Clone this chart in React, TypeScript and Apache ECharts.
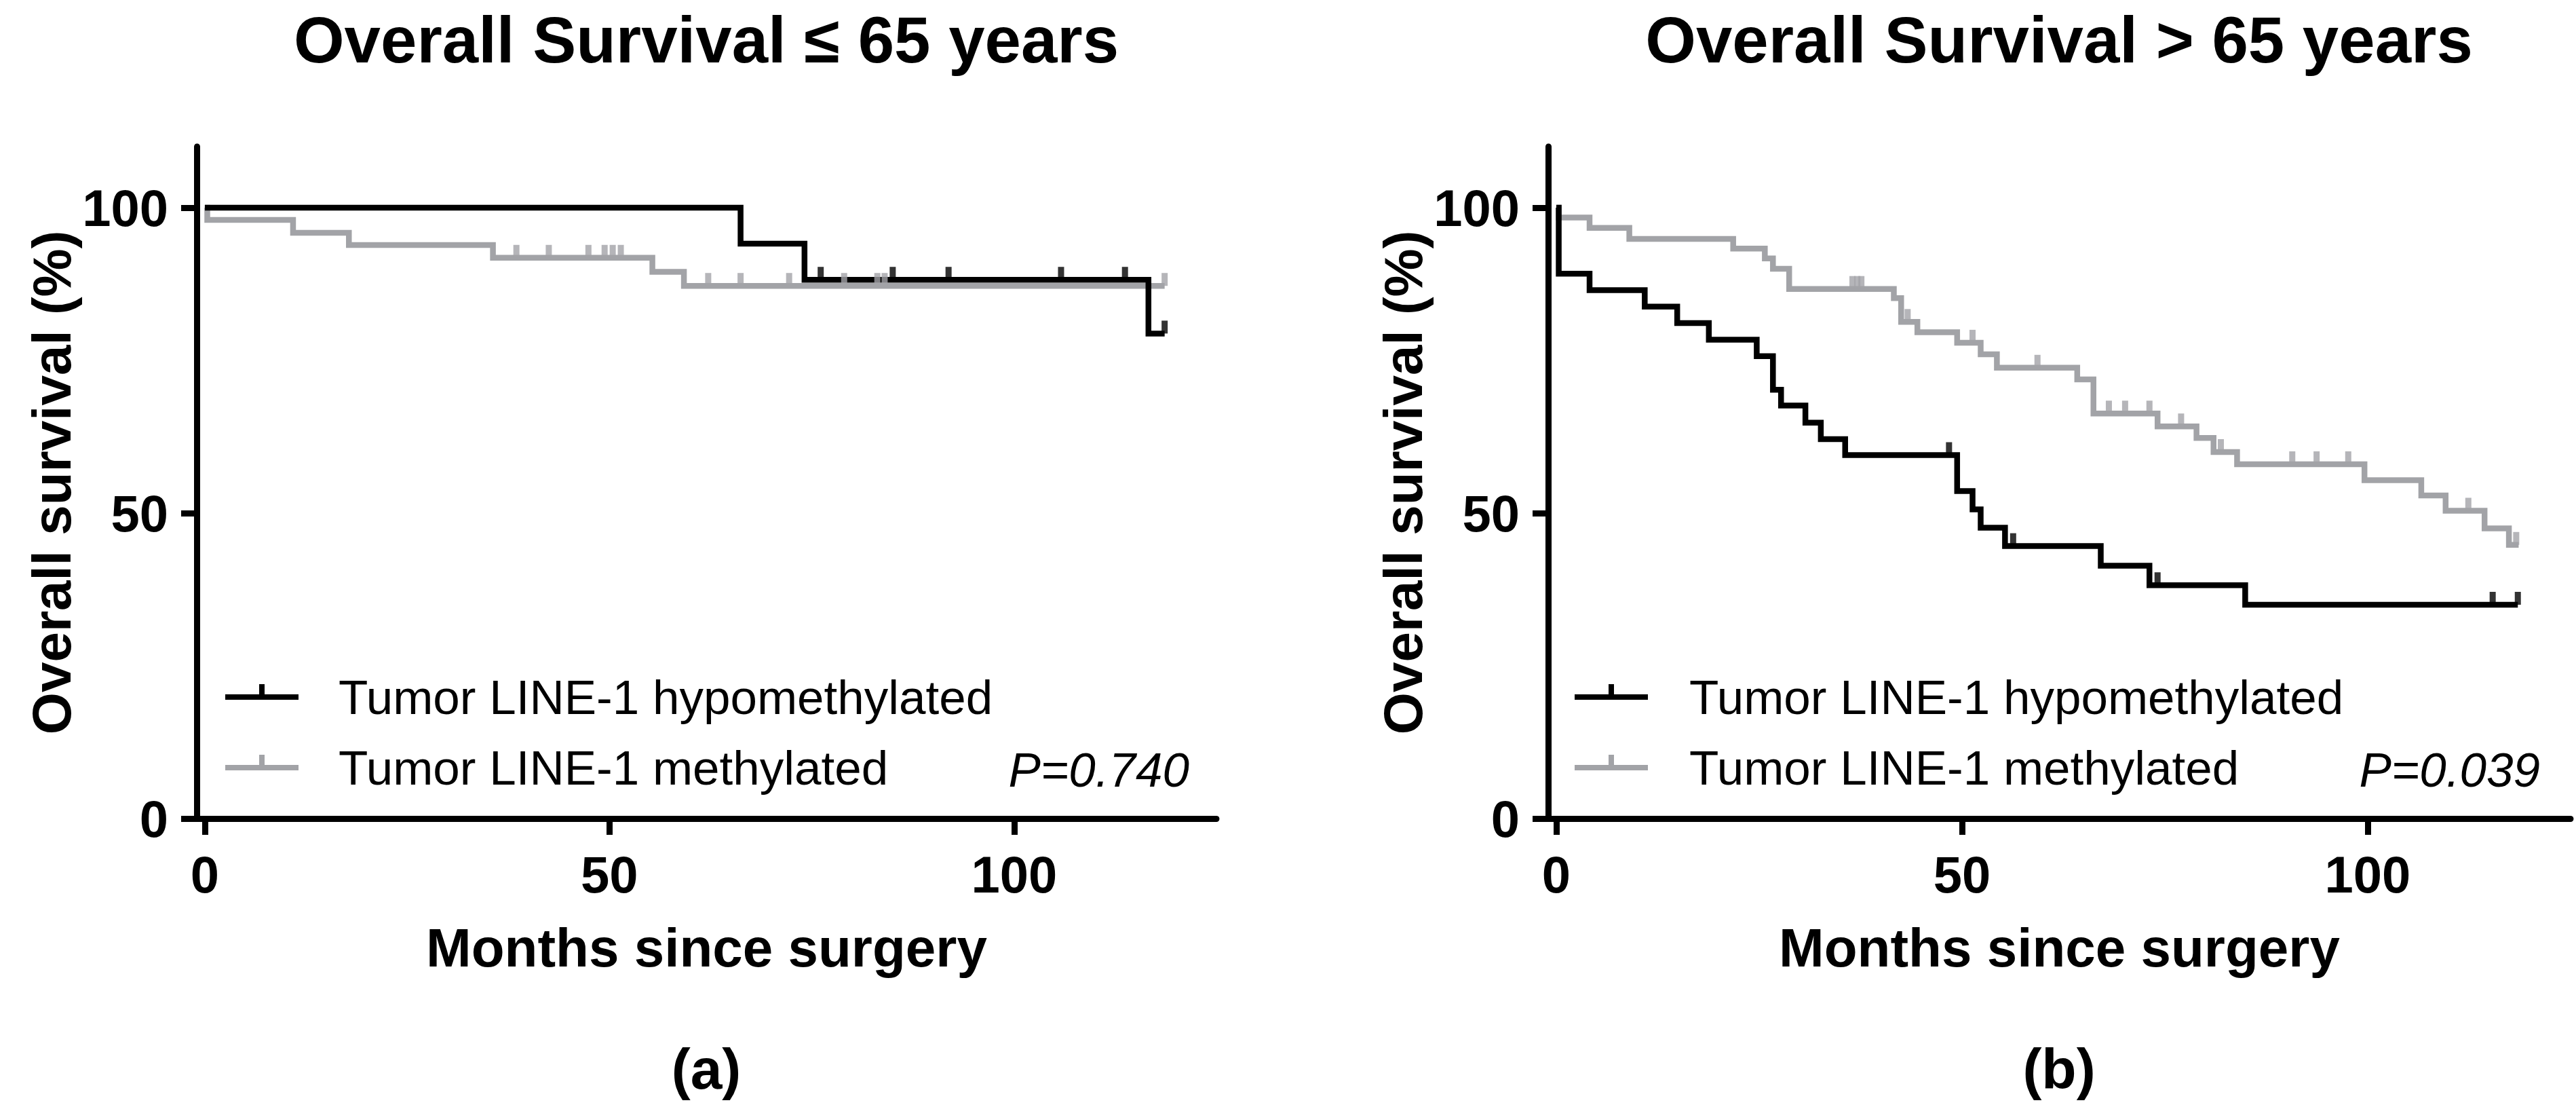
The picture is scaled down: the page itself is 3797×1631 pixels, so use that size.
import React, { useEffect, useRef } from "react";
import * as echarts from "echarts";

// ---------- data ----------
// Kaplan–Meier step points: [month, survival %] (value holds from that month on)
const leftHypoSteps: [number, number][] = [
  [0, 100], [66.2, 94.1], [74.1, 88.2], [116.6, 79.4], [118.6, 79.4],
];
const leftHypoCensor: number[] = [76.1, 85.0, 91.9, 105.8, 113.7, 118.6];

const leftMethSteps: [number, number][] = [
  [0, 100], [0.3, 98.0], [10.9, 95.9], [17.8, 93.9], [35.6, 91.8],
  [55.3, 89.5], [59.2, 87.2], [118.6, 87.2],
];
const leftMethCensor: number[] = [
  38.5, 42.5, 47.4, 49.4, 50.4, 51.4, 62.2, 66.2, 72.2, 79.0, 83.1, 84.0, 118.6,
];

const rightHypoSteps: [number, number][] = [
  [0, 100], [0.3, 89.2], [4.1, 86.5], [10.9, 83.8], [14.9, 81.1], [18.8, 78.4],
  [24.7, 75.7], [26.7, 70.2], [27.7, 67.6], [30.7, 64.8], [32.6, 62.1],
  [35.6, 59.5], [49.4, 53.6], [51.3, 50.6], [52.3, 47.6], [55.3, 44.6],
  [67.1, 41.4], [73.1, 38.2], [84.9, 35.0], [118.5, 35.0],
];
const rightHypoCensor: number[] = [48.4, 56.3, 74.1, 115.4, 118.5];

const rightMethSteps: [number, number][] = [
  [0, 100], [0.3, 98.4], [4.1, 96.7], [9.0, 94.9], [21.8, 93.3], [25.7, 91.7],
  [26.7, 90.0], [28.7, 86.7], [41.6, 85.2], [42.5, 81.3], [44.5, 79.6],
  [49.4, 77.9], [52.3, 76.0], [54.3, 73.8], [64.2, 71.9], [66.2, 66.3],
  [74.1, 64.2], [78.9, 62.3], [81.0, 60.0], [83.9, 58.0], [99.6, 55.4],
  [106.6, 52.9], [109.6, 50.4], [114.4, 47.5], [117.4, 44.8], [118.6, 44.8],
];
const rightMethCensor: number[] = [
  36.5, 37.1, 37.6, 43.3, 51.3, 59.3, 68.1, 70.1, 73.1, 77.0, 81.9, 90.7,
  93.7, 97.6, 112.4, 118.3,
];

const xTicks: number[] = [0, 50, 100];
const yTicks: number[] = [0, 50, 100];

const titles: string[] = ["Overall Survival \u2264 65 years", "Overall Survival > 65 years"];
const panelLabels: string[] = ["(a)", "(b)"];
const legendNames: string[] = ["Tumor LINE-1 hypomethylated", "Tumor LINE-1 methylated"];
const pValues: string[] = ["P=0.740", "P=0.039"];

// ---------- styling ----------
const FONT = "'Liberation Sans', Arial, Helvetica, sans-serif";
const BLACK = "#000000";
const GRAY = "#a2a3a7";
const W = 3797;
const H = 1631;

const grids = [
  { left: 290, top: 216, width: 1503, height: 990 },
  { left: 2282, top: 216, width: 1507, height: 990 },
];

function survivalAt(steps: [number, number][], t: number): number {
  let v = steps[0][1];
  for (const [m, s] of steps) {
    if (m <= t + 1e-9) v = s;
  }
  return v;
}

function lineSeries(name: string, steps: [number, number][], color: string, gi: number) {
  return {
    type: "line",
    name,
    xAxisIndex: gi,
    yAxisIndex: gi,
    data: steps,
    step: "end",
    showSymbol: false,
    symbol: "none",
    silent: true,
    lineStyle: { color, width: 8.5, cap: "butt", join: "miter" },
    emphasis: { disabled: true },
    z: 3,
  };
}

function censorSeries(name: string, steps: [number, number][], times: number[], color: string, gi: number) {
  return {
    type: "scatter",
    name,
    xAxisIndex: gi,
    yAxisIndex: gi,
    data: times.map((t) => [t, survivalAt(steps, t)]),
    symbol: "rect",
    symbolSize: [9, 19],
    symbolOffset: [0, -9.5],
    itemStyle: { color },
    silent: true,
    emphasis: { disabled: true },
    z: 3,
  };
}

function xAxisCfg(gi: number) {
  return {
    type: "value",
    gridIndex: gi,
    min: -1,
    max: 125,
    axisLine: { show: true, onZero: false, lineStyle: { color: BLACK, width: 9 } },
    axisTick: { show: true, length: 24, inside: false, customValues: xTicks, lineStyle: { color: BLACK, width: 9 } },
    axisLabel: {
      show: true,
      customValues: xTicks,
      margin: 44,
      fontSize: 76,
      fontWeight: "bold",
      fontFamily: FONT,
      color: BLACK,
    },
    splitLine: { show: false },
    name: "Months since surgery",
    nameLocation: "middle",
    nameGap: 150,
    nameTextStyle: { fontSize: 80, fontWeight: "bold", fontFamily: FONT, color: BLACK },
  };
}

function yAxisCfg(gi: number) {
  return {
    type: "value",
    gridIndex: gi,
    min: 0,
    max: 110,
    axisLine: { show: true, onZero: false, lineStyle: { color: BLACK, width: 9 } },
    axisTick: { show: true, length: 23, inside: false, customValues: yTicks, lineStyle: { color: BLACK, width: 9 } },
    axisLabel: {
      show: true,
      customValues: yTicks,
      margin: 42,
      fontSize: 76,
      fontWeight: "bold",
      fontFamily: FONT,
      color: BLACK,
    },
    splitLine: { show: false },
    name: "Overall survival (%)",
    nameLocation: "middle",
    nameRotate: 90,
    nameGap: 174,
    nameTextStyle: { fontSize: 80, fontWeight: "bold", fontFamily: FONT, color: BLACK },
  };
}

function textEl(text: string, x: number, y: number, size: number, weight: string, align: string, italic = false) {
  return {
    type: "text",
    x,
    y,
    silent: true,
    style: {
      text,
      fill: BLACK,
      fontSize: size,
      fontWeight: weight,
      fontStyle: italic ? "italic" : "normal",
      fontFamily: FONT,
      textAlign: align,
      align,
      textVerticalAlign: "middle",
      verticalAlign: "middle",
    },
  };
}

function legendEls(symX: number, textX: number, rows: number[]) {
  const els: any[] = [];
  const colors = [BLACK, GRAY];
  rows.forEach((ry, i) => {
    els.push({
      type: "rect",
      silent: true,
      shape: { x: symX, y: ry - 4, width: 108, height: 8 },
      style: { fill: colors[i] },
    });
    els.push({
      type: "rect",
      silent: true,
      shape: { x: symX + 50, y: ry - 19, width: 8, height: 15 },
      style: { fill: colors[i] },
    });
    els.push(textEl(legendNames[i], textX, ry, 71, "normal", "left"));
  });
  return els;
}

function App() {
  const ref = useRef<HTMLDivElement>(null);

  useEffect(() => {
    if (!ref.current) return;
    const chart = echarts.init(ref.current, null, { renderer: "svg", width: W, height: H });

    const legendRows = [1027, 1131];
    const graphic: any[] = [
      textEl(titles[0], 1041, 58, 96, "bold", "center"),
      textEl(titles[1], 3035, 58, 96, "bold", "center"),
      textEl(panelLabels[0], 1041, 1575, 84, "bold", "center"),
      textEl(panelLabels[1], 3035, 1575, 84, "bold", "center"),
      ...legendEls(332, 499, legendRows),
      ...legendEls(2321, 2490, legendRows),
      textEl(pValues[0], 1753, 1134, 71, "normal", "right", true),
      textEl(pValues[1], 3744, 1134, 71, "normal", "right", true),
    ];

    chart.setOption({
      animation: false,
      backgroundColor: "#ffffff",
      grid: grids.map((g) => ({ ...g, containLabel: false })),
      xAxis: [xAxisCfg(0), xAxisCfg(1)],
      yAxis: [yAxisCfg(0), yAxisCfg(1)],
      series: [
        lineSeries(legendNames[1], leftMethSteps, GRAY, 0),
        censorSeries(legendNames[1] + " censored", leftMethSteps, leftMethCensor, GRAY, 0),
        lineSeries(legendNames[0], leftHypoSteps, BLACK, 0),
        censorSeries(legendNames[0] + " censored", leftHypoSteps, leftHypoCensor, BLACK, 0),
        lineSeries(legendNames[1] + " ", rightMethSteps, GRAY, 1),
        censorSeries(legendNames[1] + " censored ", rightMethSteps, rightMethCensor, GRAY, 1),
        lineSeries(legendNames[0] + " ", rightHypoSteps, BLACK, 1),
        censorSeries(legendNames[0] + " censored ", rightHypoSteps, rightHypoCensor, BLACK, 1),
      ],
      graphic,
    });

    return () => {
      chart.dispose();
    };
  }, []);

  return (
    <div
      ref={ref}
      style={{ position: "fixed", left: 0, top: 0, width: W, height: H, background: "#ffffff" }}
    />
  );
}

export default App;
